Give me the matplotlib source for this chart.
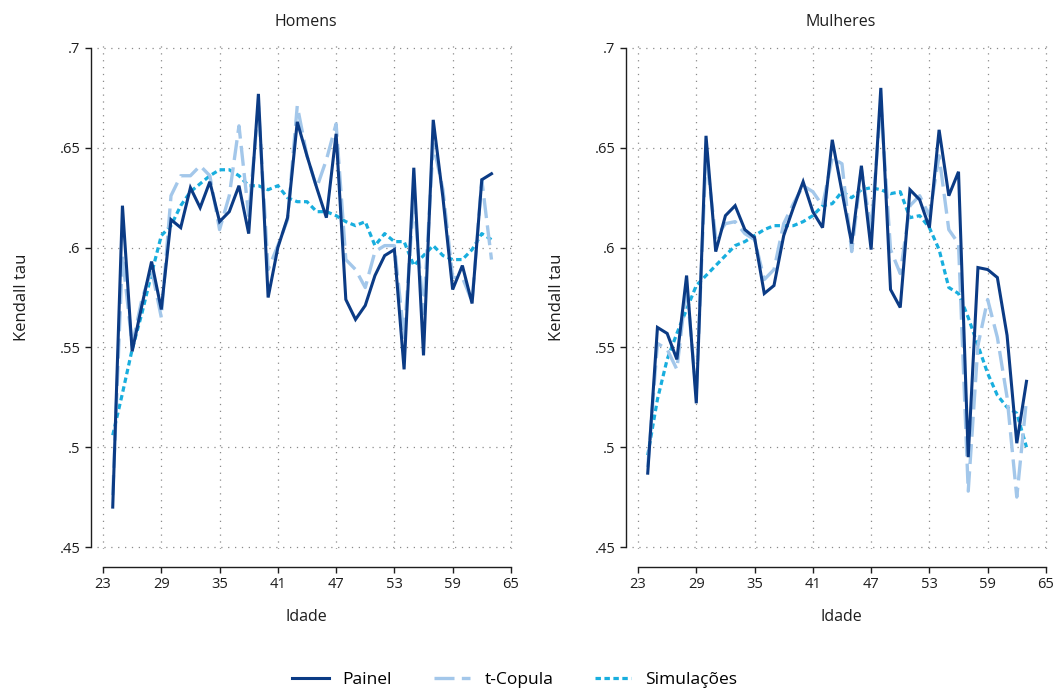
import matplotlib
matplotlib.use("Agg")
import matplotlib.pyplot as plt
from matplotlib.ticker import FixedLocator

plt.rcParams['font.family'] = ['Open Sans', 'DejaVu Sans']

ages = list(range(24, 64))

# Homens
painel_h = [0.470, 0.621, 0.548, 0.571, 0.593, 0.569, 0.614, 0.610, 0.630, 0.620,
            0.633, 0.613, 0.618, 0.631, 0.607, 0.677, 0.575, 0.600, 0.615, 0.663,
            0.646, 0.630, 0.615, 0.657, 0.574, 0.564, 0.571, 0.586, 0.596, 0.599,
            0.539, 0.640, 0.546, 0.664, 0.625, 0.579, 0.591, 0.572, 0.634, 0.637]
tcop_h = [0.476, 0.596, 0.551, 0.574, 0.589, 0.565, 0.626, 0.636, 0.636, 0.641,
          0.636, 0.609, 0.626, 0.661, 0.616, 0.671, 0.589, 0.601, 0.614, 0.671,
          0.646, 0.630, 0.644, 0.662, 0.594, 0.589, 0.580, 0.598, 0.601, 0.601,
          0.555, 0.625, 0.567, 0.652, 0.629, 0.585, 0.585, 0.573, 0.634, 0.594]
sim_h = [0.506, 0.527, 0.549, 0.567, 0.587, 0.606, 0.611, 0.621, 0.628, 0.632,
         0.636, 0.639, 0.639, 0.636, 0.631, 0.631, 0.629, 0.631, 0.625, 0.623,
         0.623, 0.618, 0.618, 0.616, 0.613, 0.611, 0.613, 0.601, 0.607, 0.603,
         0.603, 0.591, 0.596, 0.601, 0.596, 0.594, 0.594, 0.599, 0.607, 0.604]

# Mulheres
painel_m = [0.487, 0.560, 0.557, 0.544, 0.586, 0.522, 0.656, 0.598, 0.616, 0.621,
            0.609, 0.605, 0.577, 0.581, 0.606, 0.620, 0.633, 0.618, 0.610, 0.654,
            0.628, 0.602, 0.641, 0.599, 0.680, 0.579, 0.570, 0.629, 0.624, 0.610,
            0.659, 0.626, 0.638, 0.495, 0.590, 0.589, 0.585, 0.556, 0.502, 0.533]
tcop_m = [0.490, 0.552, 0.549, 0.539, 0.581, 0.527, 0.647, 0.605, 0.612, 0.613,
          0.607, 0.604, 0.584, 0.589, 0.612, 0.622, 0.631, 0.628, 0.621, 0.645,
          0.642, 0.598, 0.639, 0.609, 0.672, 0.599, 0.587, 0.621, 0.626, 0.616,
          0.646, 0.609, 0.602, 0.478, 0.551, 0.574, 0.555, 0.525, 0.475, 0.524]
sim_m = [0.496, 0.524, 0.544, 0.557, 0.569, 0.581, 0.586, 0.591, 0.596, 0.601,
         0.603, 0.606, 0.609, 0.611, 0.611, 0.611, 0.613, 0.616, 0.621, 0.622,
         0.628, 0.625, 0.629, 0.630, 0.629, 0.627, 0.628, 0.615, 0.616, 0.610,
         0.599, 0.580, 0.577, 0.565, 0.551, 0.537, 0.526, 0.520, 0.517, 0.500]

x_ticks = [23, 29, 35, 41, 47, 53, 59, 65]
y_ticks = [0.45, 0.5, 0.55, 0.6, 0.65, 0.7]
y_labels = ['.45', '.5', '.55', '.6', '.65', '.7']

C_PAINEL = '#0b3b85'
C_TCOP = '#a3c7ea'
C_SIM = '#18aede'
C_TEXT = '#1e1e1e'

W, H = 1057, 691
fig = plt.figure(figsize=(W / 100, H / 100), dpi=100)

panels = [
    (97, 'Homens', painel_h, tcop_h, sim_h),
    (632, 'Mulheres', painel_m, tcop_m, sim_m),
]

handles = None
for left_px, title, p, t, s in panels:
    ax = fig.add_axes([left_px / W, 1 - 549 / H, 418 / W, (549 - 45) / H])
    ax.set_xlim(22.38, 65.42)
    ax.set_ylim(0.449, 0.7015)

    h1, = ax.plot(ages, p, color=C_PAINEL, lw=2.2, solid_joinstyle='miter', zorder=4)
    h2, = ax.plot(ages, t, color=C_TCOP, lw=2.4, dashes=(6, 2.2), zorder=3)
    h3, = ax.plot(ages, s, color=C_SIM, lw=2.3, dashes=(1.7, 1.1), zorder=2)
    handles = [h1, h2, h3]

    ax.xaxis.set_major_locator(FixedLocator(x_ticks))
    ax.yaxis.set_major_locator(FixedLocator(y_ticks))
    ax.set_yticklabels(y_labels)

    ax.grid(True, color='#8a8a8a', lw=0.9, linestyle=(0, (1, 4.5)))
    ax.set_axisbelow(True)

    for side in ('top', 'right'):
        ax.spines[side].set_visible(False)
    ax.spines['left'].set_position(('outward', 4.3))
    ax.spines['bottom'].set_position(('outward', 13))
    ax.spines['left'].set_bounds(0.45, 0.7)
    ax.spines['bottom'].set_bounds(23, 65)
    for side in ('left', 'bottom'):
        ax.spines[side].set_linewidth(1.0)
        ax.spines[side].set_color(C_TEXT)

    ax.tick_params(axis='both', length=4.5, width=1.0, color=C_TEXT,
                   labelsize=10.5, labelcolor=C_TEXT, pad=3)

    ax.set_title(title, fontsize=11.5, color=C_TEXT, pad=14)
    ax.set_xlabel('Idade', fontsize=11.5, color=C_TEXT, labelpad=12)
    ax.set_ylabel('Kendall tau', fontsize=12, color=C_TEXT, labelpad=21)

fig.legend(handles, ['Painel', 't-Copula', 'Simulações'], loc='center',
           bbox_to_anchor=(0.487, 0.016), ncol=3, frameon=False, fontsize=12.5,
           handlelength=2.1, handletextpad=0.8, columnspacing=2.4)

fig.savefig('out.png', dpi=100)
